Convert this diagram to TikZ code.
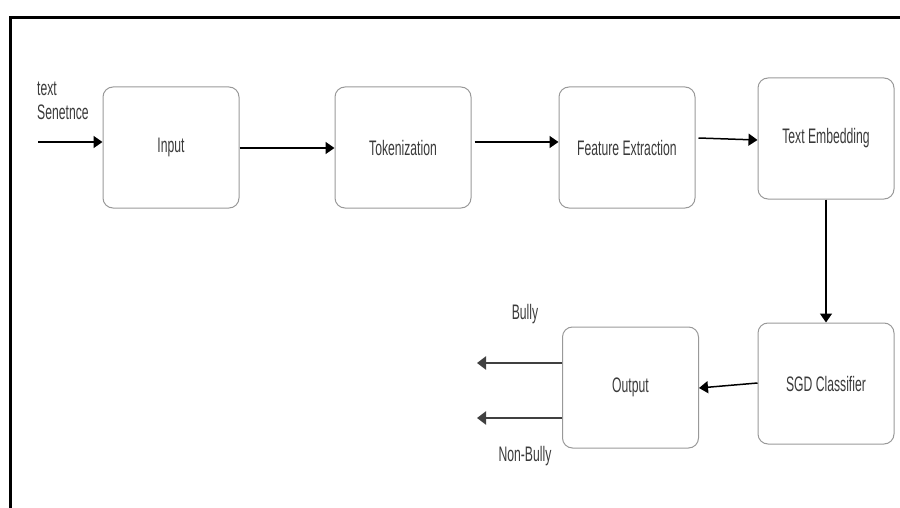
\documentclass[tikz,border=0pt]{standalone}
\usepackage{fontspec}
\setmainfont[FakeStretch=0.58]{Liberation Sans}
\usetikzlibrary{arrows.meta,calc}
\definecolor{txt}{HTML}{3A3A3A}
\definecolor{boxline}{HTML}{999999}
\definecolor{outarr}{HTML}{404040}
\tikzset{
  stagebox/.style={draw=boxline, line width=1pt, rounded corners=10pt, minimum width=136pt, minimum height=121pt, text=txt, font=\fontsize{21}{24}\selectfont, inner sep=0pt},
  lbl/.style={text=txt, font=\fontsize{21}{24}\selectfont, inner sep=0pt},
  flow/.style={draw=black, line width=1.5pt, -{Triangle[length=9pt,width=12pt]}},
  outflow/.style={draw=outarr, line width=2.5pt, -{Triangle[length=9pt,width=13pt]}}
}
\begin{document}
\begin{tikzpicture}[x=1pt,y=-1pt]
\useasboundingbox (0,0) rectangle (900,508);
% frame
\draw[line width=3pt] (10,510) -- (10,17.5) -- (902,17.5);
% stages
\node[stagebox] (inp) at (171,147.5) {Input};
\node[stagebox] (tok) at (403,147.5) {Tokenization};
\node[stagebox] (feat) at (627,147.5) {Feature Extraction};
\node[stagebox] (emb) at (826,138.5) {Text Embedding};
\node[stagebox] (sgd) at (826,383.5) {SGD Classifier};
\node[stagebox] (outp) at (630.5,387.5) {Output};
% labels
\node[lbl, anchor=west, align=left] (src) at (37,101) {text\\Senetnce};
\node[lbl] (bully) at (525,314) {Bully};
\node[lbl] (nonbully) at (525,456) {Non-Bully};
\coordinate (start) at (38,142);
\coordinate (bullyend) at (477,363);
\coordinate (nonbullyend) at (477,418);
% connectors
\draw[flow] (start) -- (start -| inp.west);
\draw[flow] ($(inp.east)+(0,0.5)$) -- ($(tok.west)+(0,0.5)$);
\draw[flow] ($(tok.east)+(3,-5.5)$) -- ($(feat.west)+(0,-5.5)$);
\draw[flow] ($(feat.east)+(3,-9.5)$) -- ($(emb.west)+(0,1.5)$);
\draw[flow] (emb.south) -- (sgd.north);
\draw[flow] ($(sgd.west)+(0,-0.5)$) -- ($(outp.east)+(0,0.5)$);
\draw[outflow] (bullyend -| outp.west) -- (bullyend);
\draw[outflow] (nonbullyend -| outp.west) -- (nonbullyend);
\end{tikzpicture}
\end{document}
